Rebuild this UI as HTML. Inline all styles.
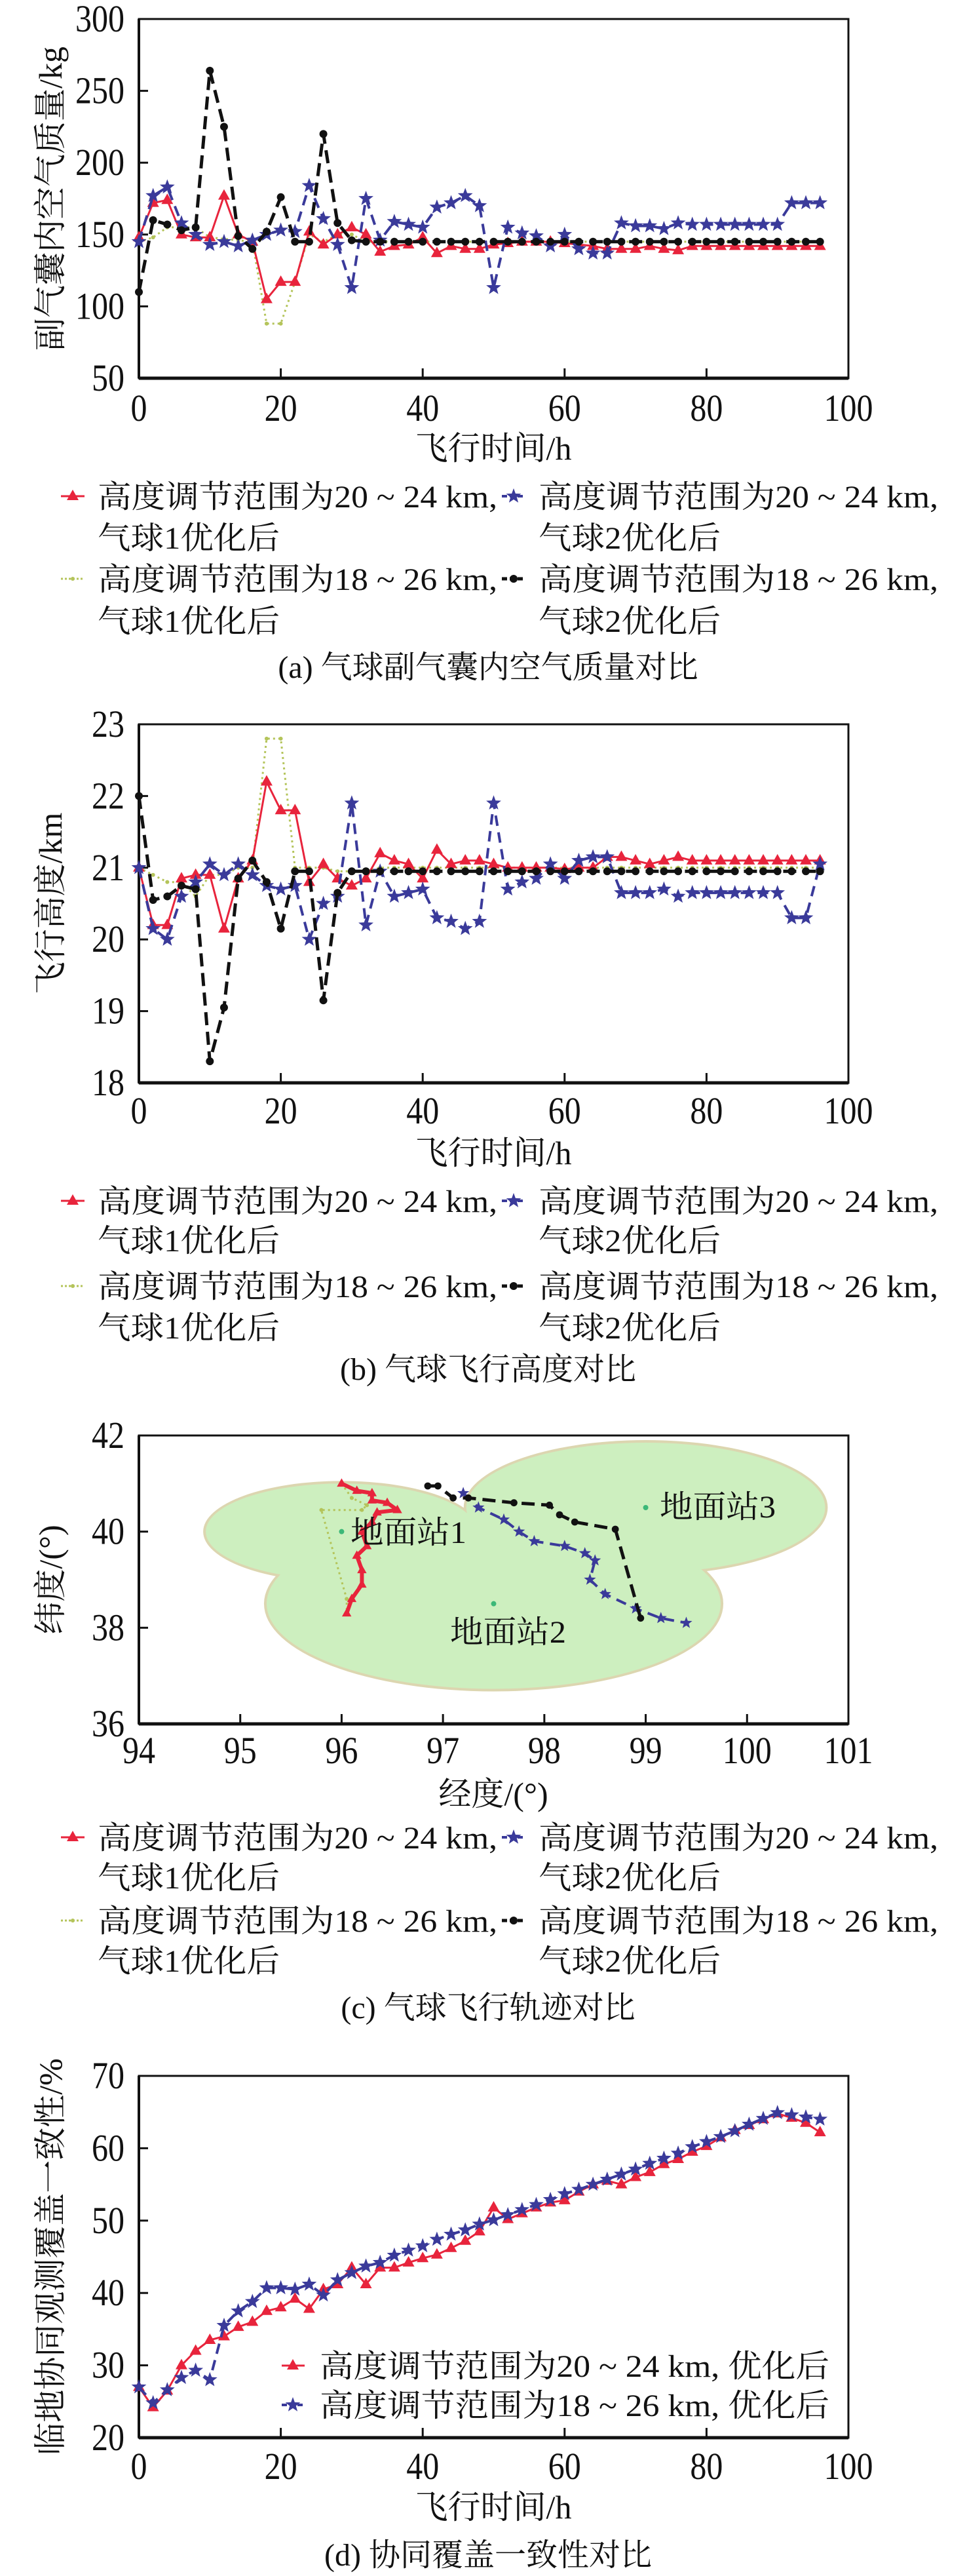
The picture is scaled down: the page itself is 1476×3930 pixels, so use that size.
<!DOCTYPE html>
<html><head><meta charset="utf-8">
<style>
html,body{margin:0;padding:0;background:#fff;}
svg{display:block;}
text{font-family:"Liberation Serif","Noto Serif CJK SC","Noto Sans CJK SC",serif;fill:#111;}
</style></head>
<body>
<svg id="root" width="1476" height="3930" viewBox="0 0 1476 3930" xmlns="http://www.w3.org/2000/svg"></svg>
<script>
// ---------- data ----------
const timesH = [0,2,4,6,8,10,12,14,16,18,20,22,24,26,28,30,32,34,36,38,40,42,44,46,48,50,52,54,56,58,60,62,64,66,68,70,72,74,76,78,80,82,84,86,88,90,92,94,96];
// (a) air mass kg
const massRedB1 = [148,172,174,150,148,148,177,150,145,105,117,117,152,143,150,155,150,138,142,143,148,137,142,140,140,143,144,145,145,145,144,143,142,140,140,140,142,140,139,142,142,142,142,142,142,142,142,142,142];
const massGreenB1 = [145,148,155,155,155,148,147,146,145,88,88,117,150,145,150,150,145,145,145,145,145,145,145,145,145,145,145,145,145,145,145,145,145,145,145,145,145,145,145,145,145,145,145,145,145,145,145,145,145];
const massBlueB2 = [145,177,183,158,150,143,145,142,146,150,153,152,184,161,143,113,175,146,159,157,155,169,172,177,170,113,155,151,149,142,150,140,137,137,158,156,156,154,158,157,157,157,157,157,157,157,172,172,172];
const massBlackB2 = [110,160,157,153,155,264,225,149,140,152,176,145,145,220,158,146,145,145,145,145,145,145,145,145,145,145,145,145,145,145,145,145,145,145,145,145,145,145,145,145,145,145,145,145,145,145,145,145,145];
const massTicksY = [50,100,150,200,250,300];
// (b) altitude km
const altRedB1 = [21.0,20.2,20.2,20.85,20.9,20.9,20.15,20.85,21.1,22.2,21.8,21.8,20.8,21.05,20.85,20.75,20.85,21.2,21.1,21.05,20.85,21.25,21.05,21.1,21.1,21.05,21.0,21.0,21.0,21.0,20.98,21.0,21.0,21.15,21.15,21.1,21.05,21.1,21.15,21.1,21.1,21.1,21.1,21.1,21.1,21.1,21.1,21.1,21.1];
const altGreenB1 = [21.0,20.9,20.8,20.8,20.6,20.9,20.9,21.0,21.0,22.8,22.8,21.0,21.0,21.0,20.95,20.95,20.95,21.0,21.0,21.0,21.0,21.0,21.0,21.0,21.0,21.0,21.0,21.0,21.0,21.0,21.0,21.0,21.0,21.0,21.0,21.0,21.0,21.0,21.0,21.0,21.0,21.0,21.0,21.0,21.0,21.0,21.0,21.0,21.0];
const altBlueB2 = [21.0,20.15,20.0,20.6,20.8,21.05,20.9,21.05,20.9,20.75,20.7,20.75,20.0,20.5,20.6,21.9,20.2,20.95,20.6,20.65,20.7,20.3,20.25,20.15,20.25,21.9,20.7,20.8,20.85,21.05,20.85,21.1,21.15,21.15,20.65,20.65,20.65,20.7,20.6,20.65,20.65,20.65,20.65,20.65,20.65,20.65,20.3,20.3,21.05];
const altBlackB2 = [22.0,20.55,20.6,20.75,20.7,18.3,19.05,20.85,21.1,20.8,20.15,20.95,20.95,19.15,20.65,20.95,20.95,20.95,20.95,20.95,20.95,20.95,20.95,20.95,20.95,20.95,20.95,20.95,20.95,20.95,20.95,20.95,20.95,20.95,20.95,20.95,20.95,20.95,20.95,20.95,20.95,20.95,20.95,20.95,20.95,20.95,20.95,20.95,20.95];
const altTicksY = [18,19,20,21,22,23];
// (c) trajectories
const trackRedLon = [96.0,96.15,96.3,96.3,96.45,96.55,96.35,96.3,96.2,96.25,96.15,96.2,96.2,96.1,96.05];
const trackRedLat = [41.0,40.85,40.8,40.65,40.6,40.45,40.4,40.2,40.0,39.7,39.5,39.2,38.9,38.6,38.3];
const trackGreenLon = [96.0,96.1,96.25,96.2,95.8,96.05,96.05];
const trackGreenLat = [41.0,40.7,40.55,40.45,40.45,38.6,38.3];
const trackBlueLon = [97.2,97.35,97.6,97.75,97.9,98.2,98.4,98.5,98.45,98.6,98.9,99.15,99.4];
const trackBlueLat = [40.8,40.5,40.25,40.0,39.8,39.7,39.55,39.4,39.0,38.7,38.4,38.2,38.1];
const trackBlackLon = [96.85,96.95,97.1,97.25,97.7,98.05,98.15,98.3,98.7,98.95];
const trackBlackLat = [40.95,40.95,40.7,40.7,40.6,40.55,40.35,40.2,40.05,38.2];
const stationNames = ["地面站1","地面站2","地面站3"];
const stationLon = [96.0,97.5,99.0];
const stationLat = [40.0,38.5,40.5];
const coverRxLon = [1.34,2.24,1.77];
const coverRyLat = [1.0,1.77,1.35];
const lonTicks = [94,95,96,97,98,99,100,101];
const latTicks = [36,38,40,42];
// (d) consistency %
const consRed = [27,24.2,26.5,30,32,33.5,34,35.3,36,37.5,38,39.2,37.8,40.5,41.2,43.5,41.2,43.5,43.5,44.2,44.8,45.3,46.2,47.2,48.5,51.8,50.2,51,51.8,52.5,52.8,54,55,55.5,55,56,56.7,57.8,58.5,59.5,60.3,61.5,62.5,63.2,64,64.8,64.2,63.5,62.2];
const consBlue = [27,24.8,26.6,28.3,29.3,28,35.5,37.5,38.8,40.7,40.7,40.5,41.2,39.7,41.8,42.8,43.7,44.2,45.2,45.9,46.5,47.4,48.1,48.7,49.5,50.1,50.8,51.5,52.2,52.9,53.7,54.3,55,55.7,56.4,57.1,57.9,58.6,59.3,60.2,60.9,61.6,62.4,63.3,64.1,64.9,64.6,64.3,64.0];
const consTicksY = [20,30,40,50,60,70];
const timeTicksX = [0,20,40,60,80,100];

// ---------- helpers ----------
const NS = "http://www.w3.org/2000/svg";
const root = document.getElementById("root");
function mk(tag, attrs, parent){ const e=document.createElementNS(NS,tag); for(const k in attrs) e.setAttribute(k,attrs[k]); (parent||root).appendChild(e); return e; }
function txt(s, x, y, size, anchor, parent, extra){ const t=mk("text",Object.assign({x:x,y:y,"font-size":size,"text-anchor":anchor||"start"},extra||{}),parent); t.textContent=s; return t; }

const X0=212, X1=1295;
const COL={red:"#e8243c",blue:"#3a3a9a",green:"#b4c45a",black:"#111"};
const STY={
  red:{stroke:COL.red,w:3,dash:null,marker:"tri"},
  blue:{stroke:COL.blue,w:4,dash:"16 10",marker:"star"},
  green:{stroke:COL.green,w:3,dash:"3 5",marker:"dot"},
  black:{stroke:COL.black,w:5,dash:"20 10",marker:"circ"}
};
function marker(g, kind, x, y, color, sc){
  sc=sc||1;
  let m;
  if(kind==="tri"){ m=mk("polygon",{points:`${x},${y-10*sc} ${x-9*sc},${y+6*sc} ${x+9*sc},${y+6*sc}`,fill:color},g); }
  else if(kind==="star"){ let p=[]; for(let i=0;i<10;i++){const r=(i%2?5:12)*sc,a=-Math.PI/2+i*Math.PI/5;p.push((x+r*Math.cos(a)).toFixed(1)+","+(y+r*Math.sin(a)).toFixed(1));} m=mk("polygon",{points:p.join(" "),fill:color},g); }
  else if(kind==="circ"){ m=mk("circle",{cx:x,cy:y,r:6*sc,fill:color},g); }
  else { m=mk("circle",{cx:x,cy:y,r:3,fill:color},g); }
  
  
  return m;
}
function series(g, xs, ys, sx, sy, key, name, sc, w){
  const s=STY[key];
  const sg=mk("g",{},g);
  
  
  const pts=xs.map((v,i)=>sx(v).toFixed(1)+","+sy(ys[i]).toFixed(1)).join(" ");
  const pl=mk("polyline",{points:pts,fill:"none",stroke:s.stroke,"stroke-width":w||s.w,"stroke-linejoin":"round"},sg);
  if(s.dash) pl.setAttribute("stroke-dasharray",s.dash);
  
  
  xs.forEach((v,i)=>marker(sg,s.marker,sx(v),sy(ys[i]),s.stroke,sc));
}
function axes(g, top, bot, xmin, xmax, ymin, ymax, xt, yt, ylabel, tickBase, xTitleY){
  const sx=v=>X0+(v-xmin)/(xmax-xmin)*(X1-X0);
  const sy=v=>bot-(v-ymin)/(ymax-ymin)*(bot-top);
  const fr=mk("rect",{x:X0,y:top,width:X1-X0,height:bot-top,fill:"none",stroke:"#111","stroke-width":3},g);
   
  mk("line",{x1:X0,y1:bot,x2:X1,y2:bot,stroke:"#111","stroke-width":5},g);
  mk("line",{x1:X0,y1:top,x2:X0,y2:bot,stroke:"#111","stroke-width":4},g);
  xt.forEach(v=>{ const x=sx(v);
    mk("line",{x1:x,y1:bot,x2:x,y2:bot-15,stroke:"#111","stroke-width":3},g);
    const s=String(v);
    const t=txt(s,x,tickBase+2,58,"middle",g,{textLength:25*s.length,lengthAdjust:"spacingAndGlyphs"});
     
  });
  yt.forEach(v=>{ const y=sy(v);
    mk("line",{x1:X0,y1:y,x2:X0+14,y2:y,stroke:"#111","stroke-width":3},g);
    const s=String(v);
    const t=txt(s,190,y+19,58,"end",g,{textLength:25*s.length,lengthAdjust:"spacingAndGlyphs"});
     
  });
  const yl=txt(ylabel,0,0,50,"middle",g,{transform:`translate(94,${(top+bot)/2}) rotate(-90)`});
   
  return {sx,sy};
}
function legend4(g, y1, y2, y3, y4){
  const rows=[[y1,y2,"高度调节范围为20 ~ 24 km,","气球1优化后","red",111,149],
              [y1,y2,"高度调节范围为20 ~ 24 km,","气球2优化后","blue",784,822],
              [y3,y4,"高度调节范围为18 ~ 26 km,","气球1优化后","green",111,149],
              [y3,y4,"高度调节范围为18 ~ 26 km,","气球2优化后","black",784,822]];
  rows.forEach(r=>{
    const lg=mk("g",{},g);
    
    
    const s=STY[r[4]];
    const ln=mk("line",{x1:r[5]-18,y1:r[0],x2:r[5]+18,y2:r[0],stroke:s.stroke,"stroke-width":s.w},lg);
    if(s.dash) ln.setAttribute("stroke-dasharray",s.dash==="3 5"?"3 3":"8 4");
    marker(lg,s.marker,r[5],r[0],s.stroke);
    txt(r[2],r[6],r[0]+17,48,"start",lg,{textLength:610,lengthAdjust:"spacingAndGlyphs"});
    txt(r[3],r[6],r[1]+17,48,"start",lg,{textLength:278,lengthAdjust:"spacingAndGlyphs"});
  });
}
function caption(s,y,name){ const t=txt(s,745,y+17,48,"middle");   }
function xtitle(s,y,g){ const t=txt(s,753,y+17,50,"middle",g);   }

// ---------- chart a ----------
(function(){
  const g=mk("g",{});  
  const {sx,sy}=axes(g,29,577,0,100,50,300,timeTicksX,massTicksY,"副气囊内空气质量/kg",640,684);
  series(g,timesH,massGreenB1,sx,sy,"green","series-balloon1-18-26");
  series(g,timesH,massRedB1,sx,sy,"red","series-balloon1-20-24");
  series(g,timesH,massBlueB2,sx,sy,"blue","series-balloon2-20-24");
  series(g,timesH,massBlackB2,sx,sy,"black","series-balloon2-18-26");
  xtitle("飞行时间/h",684,g);
  legend4(g,757,820,883,947);
  caption("(a) 气球副气囊内空气质量对比",1017,"caption-a");
})();
// ---------- chart b ----------
(function(){
  const g=mk("g",{});  
  const {sx,sy}=axes(g,1105,1652,0,100,18,23,timeTicksX,altTicksY,"飞行高度/km",1712,1759);
  series(g,timesH,altGreenB1,sx,sy,"green","series-balloon1-18-26");
  series(g,timesH,altRedB1,sx,sy,"red","series-balloon1-20-24");
  series(g,timesH,altBlueB2,sx,sy,"blue","series-balloon2-20-24");
  series(g,timesH,altBlackB2,sx,sy,"black","series-balloon2-18-26");
  xtitle("飞行时间/h",1759,g);
  legend4(g,1832,1892,1962,2025);
  caption("(b) 气球飞行高度对比",2088,"caption-b");
})();
// ---------- chart c ----------
(function(){
  const g=mk("g",{});  
  const top=2190,bot=2630;
  const sx=v=>X0+(v-94)/7*(X1-X0), sy=v=>bot-(v-36)/6*(bot-top);
  const pxLon=(X1-X0)/7, pxLat=(bot-top)/6;
  const cg=mk("g",{},g);  
  stationLon.forEach((v,i)=>mk("ellipse",{cx:sx(v),cy:sy(stationLat[i]),rx:coverRxLon[i]*pxLon+4,ry:coverRyLat[i]*pxLat+4,fill:"#dcd6b0"},cg));
  stationLon.forEach((v,i)=>mk("ellipse",{cx:sx(v),cy:sy(stationLat[i]),rx:coverRxLon[i]*pxLon,ry:coverRyLat[i]*pxLat,fill:"#cdefbf"},cg));
  axes(g,top,bot,94,101,36,42,lonTicks,latTicks,"纬度/(°)",2688,2737);
  series(g,trackGreenLon,trackGreenLat,sx,sy,"green","track-balloon1-18-26");
  series(g,trackRedLon,trackRedLat,sx,sy,"red","track-balloon1-20-24",0.8,6);
  series(g,trackBlueLon,trackBlueLat,sx,sy,"blue","track-balloon2-20-24",0.8);
  series(g,trackBlackLon,trackBlackLat,sx,sy,"black","track-balloon2-18-26",0.9);
  stationLon.forEach((v,i)=>{
    const d=mk("circle",{cx:sx(v),cy:sy(stationLat[i]),r:4,fill:"#3cb878"},g);
     
  });
  const lx=[535,687,1007], ly=[2337,2489,2298];
  stationNames.forEach((s,i)=>{ const t=txt(s,lx[i],ly[i]+17,48,"start",g,{textLength:177,lengthAdjust:"spacingAndGlyphs"});   });
  xtitle("经度/(°)",2737,g);
  legend4(g,2803,2864,2930,2991);
  caption("(c) 气球飞行轨迹对比",3062,"caption-c");
})();
// ---------- chart d ----------
(function(){
  const g=mk("g",{});  
  const {sx,sy}=axes(g,3167,3719,0,100,20,70,timeTicksX,consTicksY,"临地协同观测覆盖一致性/%",3780,3825);
  series(g,timesH,consRed,sx,sy,"red","series-20-24");
  series(g,timesH,consBlue,sx,sy,"blue","series-18-26");
  const ent=[[3609,"red","高度调节范围为20 ~ 24 km, 优化后"],[3669,"blue","高度调节范围为18 ~ 26 km, 优化后"]];
  ent.forEach(e=>{
    const lg=mk("g",{},g);
    
    
    const s=STY[e[1]];
    const ln=mk("line",{x1:430,y1:e[0],x2:465,y2:e[0],stroke:s.stroke,"stroke-width":s.w},lg);
    if(s.dash) ln.setAttribute("stroke-dasharray","8 4");
    marker(lg,s.marker,447,e[0],s.stroke);
    txt(e[2],488,e[0]+17,48,"start",lg,{textLength:778,lengthAdjust:"spacingAndGlyphs"});
  });
  xtitle("飞行时间/h",3825,g);
  caption("(d) 协同覆盖一致性对比",3897,"caption-d");
})();
</script>
</body></html>
